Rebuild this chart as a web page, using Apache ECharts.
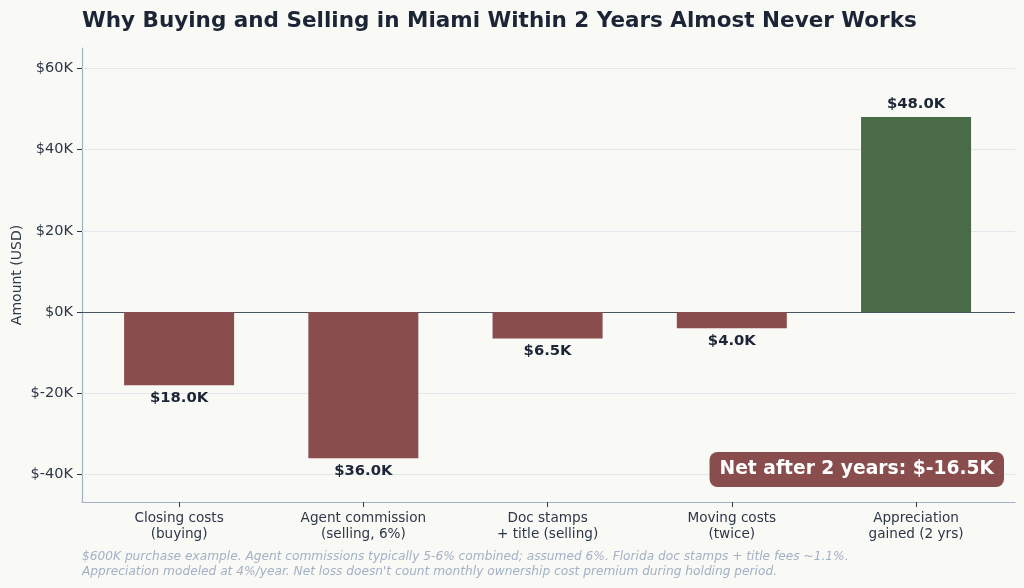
<!DOCTYPE html>
<html>
<head>
<meta charset="utf-8">
<script src="https://cdn.jsdelivr.net/npm/echarts@6/dist/echarts.min.js"></script>
<style>
  html, body { margin: 0; padding: 0; background: #f9f9f6; }
  #chart { width: 1024px; height: 588px; }
</style>
</head>
<body>
<div id="chart"></div>
<script>
// data
const categories = ['Closing costs\n(buying)', 'Agent commission\n(selling, 6%)', 'Doc stamps\n+ title (selling)', 'Moving costs\n(twice)', 'Appreciation\ngained (2 yrs)']
const amounts = [-18000, -36000, -6500, -4000, 48000]
const yTicks = [-40000, -20000, 0, 20000, 40000, 60000]
const netText = 'Net after 2 years: $-16.5K'

const RED = '#8a4d4d'
const GREEN = '#4a6b48'
const FONT = 'DejaVu Sans'

const xIdx = categories.map(function (c, i) { return i })

const fmtK = function (v) {
    return '$' + (v / 1000).toFixed(0) + 'K'
}

const barData = amounts.map(function (v, i) {
    return {
        value: [i, v],
        itemStyle: { color: v < 0 ? RED : GREEN },
        label: { position: v < 0 ? 'bottom' : 'top' }
    }
})

const chart = echarts.init(document.getElementById('chart'))
chart.setOption({
    backgroundColor: '#f9f9f6',
    animation: false,
    textStyle: { fontFamily: FONT },
    title: {
        text: 'Why Buying and Selling in Miami Within 2 Years Almost Never Works',
        left: 77,
        top: 5,
        textStyle: { fontFamily: FONT, fontSize: 21.5, fontWeight: 'bold', color: '#1c2536' }
    },
    grid: { left: 82, right: 9, top: 48, bottom: 86, containLabel: false, outerBoundsMode: 'none' },
    xAxis: {
        type: 'value',
        min: -0.527,
        max: 4.537,
        splitLine: { show: false },
        axisLine: { onZero: false, lineStyle: { color: '#a3b1c6', width: 1.2 } },
        axisTick: { show: true, length: 5, customValues: xIdx, lineStyle: { color: '#2d3748' } },
        axisLabel: {
            color: '#2d3748', fontSize: 13.6, lineHeight: 16, margin: 8, fontFamily: FONT,
            customValues: xIdx,
            formatter: function (v) { return categories[Math.round(v)] }
        }
    },
    yAxis: {
        type: 'value',
        min: -46750,
        max: 65000,
        name: 'Amount (USD)',
        nameLocation: 'middle',
        nameGap: 58,
        nameMoveOverlap: false,
        nameTextStyle: { color: '#2d3748', fontSize: 14, fontFamily: FONT },
        axisLine: { show: true, onZero: false, lineStyle: { color: '#a3b1c6', width: 1.2 } },
        axisTick: { show: true, length: 5, customValues: yTicks, lineStyle: { color: '#2d3748' } },
        axisLabel: { color: '#2d3748', fontSize: 14.5, margin: 9, customValues: yTicks, formatter: fmtK, fontFamily: FONT },
        splitLine: { show: false }
    },
    series: [
        {
            type: 'bar',
            data: barData,
            barWidth: 110,
            label: {
                show: true,
                distance: 5,
                fontSize: 14.8,
                fontWeight: 'bold',
                color: '#1c2536',
                fontFamily: FONT,
                formatter: function (p) {
                    return '$' + (Math.abs(p.value[1]) / 1000).toFixed(1) + 'K'
                }
            },
            markLine: {
                silent: true,
                symbol: 'none',
                label: { show: false },
                data: yTicks.filter(function (t) { return t !== 0 }).map(function (t) {
                    return { yAxis: t, lineStyle: { color: '#e3e6ec', width: 1, type: 'solid' } }
                }).concat([{ yAxis: 0, lineStyle: { color: '#4a5568', width: 1.2, type: 'solid' } }]),
                z: 1
            },
            z: 3
        }
    ],
    graphic: [
        {
            type: 'text',
            right: 20,
            top: 452,
            style: {
                text: netText,
                fill: '#ffffff',
                font: 'bold 18.7px "DejaVu Sans"',
                backgroundColor: RED,
                padding: [8, 10, 8, 10],
                borderRadius: 8
            },
            z: 10
        },
        {
            type: 'text',
            left: 82,
            top: 549,
            style: {
                text: '$600K purchase example. Agent commissions typically 5-6% combined; assumed 6%. Florida doc stamps + title fees ~1.1%.\nAppreciation modeled at 4%/year. Net loss doesn\'t count monthly ownership cost premium during holding period.',
                fill: '#a3b1c6',
                font: 'italic 12.2px "DejaVu Sans"',
                lineHeight: 15
            }
        }
    ]
})
</script>
</body>
</html>
